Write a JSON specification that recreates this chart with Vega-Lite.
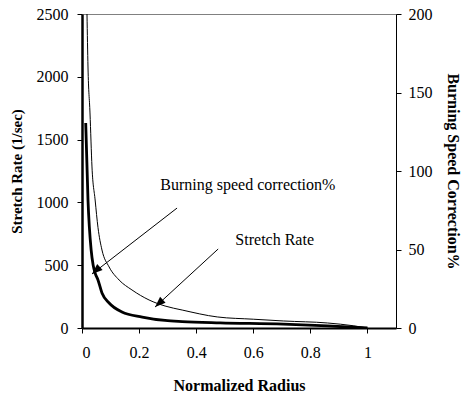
{
  "$schema": "https://vega.github.io/schema/vega-lite/v6.json",
  "autosize": "none",
  "width": 314,
  "height": 314,
  "padding": {"left": 82, "top": 14, "right": 71, "bottom": 70},
  "background": "white",
  "config": {
    "font": "Liberation Serif",
    "view": {"stroke": "#808080", "strokeWidth": 1},
    "axis": {"grid": false, "domainColor": "black", "tickColor": "black", "labelColor": "black", "titleColor": "black", "labelFont": "Liberation Serif", "titleFont": "Liberation Serif", "labelFontSize": 16, "titleFontSize": 15, "titleFontWeight": "bold", "labelFontWeight": "normal"}
  },
  "datasets": {
    "stretch": [
      {"r": 0.0175, "rate": 2500},
      {"r": 0.021, "rate": 2078},
      {"r": 0.028, "rate": 1712},
      {"r": 0.035, "rate": 1282},
      {"r": 0.046, "rate": 1019},
      {"r": 0.056, "rate": 800},
      {"r": 0.070, "rate": 621},
      {"r": 0.095, "rate": 486},
      {"r": 0.130, "rate": 382},
      {"r": 0.175, "rate": 303},
      {"r": 0.235, "rate": 223},
      {"r": 0.291, "rate": 175},
      {"r": 0.351, "rate": 143},
      {"r": 0.474, "rate": 88},
      {"r": 0.6, "rate": 70},
      {"r": 0.705, "rate": 56},
      {"r": 0.86, "rate": 40},
      {"r": 0.95, "rate": 18},
      {"r": 1.0, "rate": 0}
    ],
    "burning": [
      {"r": 0.013, "pct": 130.6},
      {"r": 0.021, "pct": 81.5},
      {"r": 0.032, "pct": 49.7},
      {"r": 0.039, "pct": 40.1},
      {"r": 0.046, "pct": 35},
      {"r": 0.056, "pct": 30.6},
      {"r": 0.070, "pct": 22.3},
      {"r": 0.095, "pct": 15.9},
      {"r": 0.140, "pct": 10.2},
      {"r": 0.211, "pct": 7.0},
      {"r": 0.291, "pct": 4.8},
      {"r": 0.351, "pct": 4.1},
      {"r": 0.484, "pct": 3.3},
      {"r": 0.705, "pct": 2.5},
      {"r": 0.86, "pct": 1.3},
      {"r": 1.0, "pct": 0}
    ],
    "labels": [
      {"r": 0.581, "v": 1139, "label": "Burning speed correction%"},
      {"r": 0.675, "v": 701, "label": "Stretch Rate"}
    ],
    "arrows": [
      {"r1": 0.333, "v1": 955, "r2": 0.035, "v2": 430, "ang": 228},
      {"r1": 0.477, "v1": 629, "r2": 0.256, "v2": 167, "ang": 227}
    ]
  },
  "layer": [
    {
      "data": {"name": "stretch"},
      "mark": {"type": "line", "color": "black", "strokeWidth": 1, "clip": true, "interpolate": "monotone"},
      "encoding": {
        "x": {"field": "r", "type": "quantitative", "scale": {"domain": [0, 1.1], "nice": false},
          "axis": {"title": "Normalized Radius", "titleFontSize": 16, "labelFont": "Liberation Serif", "values": [0, 0.2, 0.4, 0.6, 0.8, 1], "format": "~g", "domainWidth": 2, "tickSize": 5, "labelPadding": 11, "titlePadding": 17}},
        "y": {"field": "rate", "type": "quantitative", "scale": {"domain": [0, 2500], "nice": false},
          "axis": {"title": "Stretch Rate (1/sec)", "titleFontSize": 15, "labelFont": "Liberation Serif", "orient": "left", "values": [0, 500, 1000, 1500, 2000, 2500], "format": "d", "domainWidth": 2.5, "tickSize": 5, "labelPadding": 9, "titlePadding": 12}}
      }
    },
    {
      "data": {"name": "burning"},
      "mark": {"type": "line", "color": "black", "strokeWidth": 2.8, "clip": true, "interpolate": "monotone"},
      "encoding": {
        "x": {"field": "r", "type": "quantitative", "scale": {"domain": [0, 1.1], "nice": false}},
        "y": {"field": "pct", "type": "quantitative", "scale": {"domain": [0, 200], "nice": false},
          "axis": {"title": "Burning Speed Correction%", "titleFontSize": 16, "labelFont": "Liberation Serif", "orient": "right", "values": [0, 50, 100, 150, 200], "domainWidth": 1, "tickSize": 5, "labelPadding": 7, "titlePadding": 12}}
      }
    },
    {
      "data": {"name": "labels"},
      "mark": {"type": "text", "font": "Liberation Serif", "fontSize": 16, "color": "black", "align": "center", "baseline": "middle"},
      "encoding": {
        "x": {"field": "r", "type": "quantitative", "scale": {"domain": [0, 1.1], "nice": false}},
        "y": {"field": "v", "type": "quantitative", "scale": {"domain": [0, 2500], "nice": false}, "axis": null},
        "text": {"field": "label"}
      }
    },
    {
      "data": {"name": "arrows"},
      "mark": {"type": "rule", "color": "black", "strokeWidth": 1},
      "encoding": {
        "x": {"field": "r1", "type": "quantitative", "scale": {"domain": [0, 1.1], "nice": false}},
        "y": {"field": "v1", "type": "quantitative", "scale": {"domain": [0, 2500], "nice": false}, "axis": null},
        "x2": {"field": "r2"},
        "y2": {"field": "v2"}
      }
    },
    {
      "data": {"name": "arrows"},
      "mark": {"type": "point", "shape": "M0,0L-0.38,1L0.38,1Z", "filled": true, "color": "black", "opacity": 1, "size": 450},
      "encoding": {
        "x": {"field": "r2", "type": "quantitative", "scale": {"domain": [0, 1.1], "nice": false}},
        "y": {"field": "v2", "type": "quantitative", "scale": {"domain": [0, 2500], "nice": false}, "axis": null},
        "angle": {"field": "ang", "type": "quantitative", "scale": null}
      }
    }
  ],
  "resolve": {"scale": {"y": "independent"}}
}
